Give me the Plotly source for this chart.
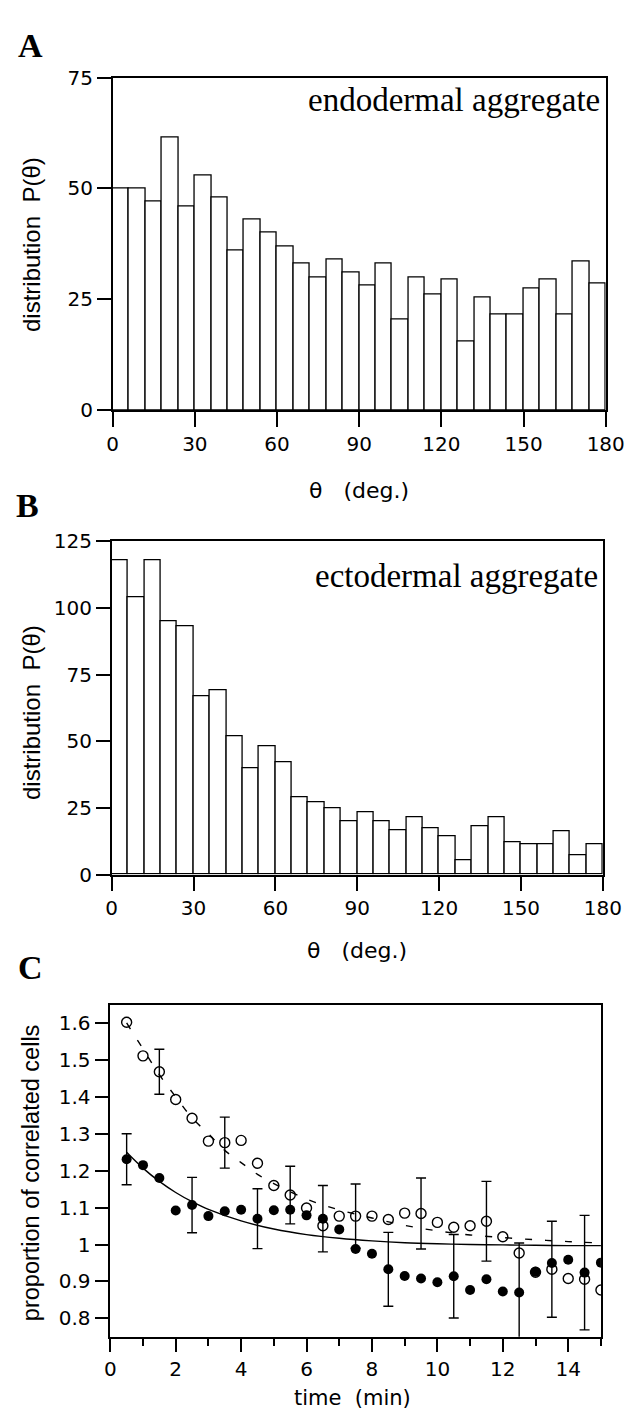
import plotly.graph_objects as go

W, H = 643, 1428

# ---------------- data ----------------
theta_centers = [3 + 6 * i for i in range(30)]
endo_counts = [50, 50, 47, 61.5, 46, 53, 48, 36, 43, 40, 37, 33, 30, 34, 31,
               28, 33, 20.5, 30, 26, 29.5, 15.5, 25.5, 21.5, 21.5, 27.5, 29.5, 21.5, 33.5, 28.5]
ecto_counts = [118, 104, 118, 95, 93, 67, 69, 52, 40, 48, 42, 29, 27, 25, 20,
               23.5, 20, 16.5, 21.5, 17.5, 14.5, 5.3, 18.3, 21.5, 12.3, 11.2, 11.2, 16.2, 7.1, 11.2]

theta_ticks = [0, 30, 60, 90, 120, 150, 180]
endo_yticks = [0, 25, 50, 75]
ecto_yticks = [0, 25, 50, 75, 100, 125]

time_min = [0.5 * (i + 1) for i in range(30)]
filled_vals = [1.231, 1.215, 1.18, 1.092, 1.107, 1.077, 1.09, 1.094, 1.07, 1.093,
               1.094, 1.079, 1.07, 1.041, 0.988, 0.975, 0.933, 0.915, 0.908, 0.898,
               0.914, 0.877, 0.906, 0.873, 0.870, 0.926, 0.950, 0.959, 0.924, 0.951]
open_vals = [1.602, 1.511, 1.468, 1.393, 1.342, 1.28, 1.276, 1.282, 1.22, 1.16,
             1.134, 1.099, 1.051, 1.077, 1.077, 1.077, 1.068, 1.085, 1.084, 1.06,
             1.047, 1.051, 1.063, 1.021, 0.977, 0.925, 0.933, 0.908, 0.906, 0.877]

filled_err_t = [0.5, 2.5, 4.5, 6.5, 8.5, 10.5, 12.5, 14.5]
filled_err = [0.069, 0.075, 0.081, 0.09, 0.10, 0.113, 0.134, 0.155]
open_err_t = [1.5, 3.5, 5.5, 7.5, 9.5, 11.5, 13.5]
open_err = [0.061, 0.069, 0.078, 0.087, 0.096, 0.108, 0.13]

solid_fit_t = [0.5, 1, 1.5, 2, 2.5, 3, 4, 5, 6, 7, 8, 9, 10, 11, 12, 13, 14, 15]
solid_fit_v = [1.25, 1.207, 1.171, 1.141, 1.116, 1.095, 1.064, 1.042, 1.027, 1.017,
               1.010, 1.005, 1.002, 1.000, 0.999, 0.998, 0.997, 0.997]
dashed_fit_t = [0.5, 1, 1.5, 2, 2.5, 3, 3.5, 4, 4.5, 5, 6, 7, 8, 9, 10, 11, 12, 13, 14, 15]
dashed_fit_v = [1.60, 1.53, 1.46, 1.40, 1.343, 1.30, 1.255, 1.222, 1.19, 1.165, 1.123,
                1.094, 1.072, 1.052, 1.037, 1.026, 1.019, 1.013, 1.008, 1.004]

c_yticks = [0.8, 0.9, 1.0, 1.1, 1.2, 1.3, 1.4, 1.5, 1.6]
c_yticklabels = ["0.8", "0.9", "1", "1.1", "1.2", "1.3", "1.4", "1.5", "1.6"]
c_xticks = [0, 2, 4, 6, 8, 10, 12, 14]

# ---------------- layout helpers ----------------
def px_x(x):
    return x / W

def px_y(y):
    return 1 - y / H

SANS = "Liberation Sans, Arial, sans-serif"
WIDE = "DejaVu Sans, Verdana, sans-serif"
SERIF = "Liberation Serif, Times New Roman, serif"
TICKFONT = dict(family=WIDE, size=20, color="black")

fig = go.Figure()

bar_style = dict(color="white", line=dict(color="black", width=1.3))
fig.add_trace(go.Bar(x=theta_centers, y=endo_counts, width=6, marker=bar_style,
                     xaxis="x", yaxis="y", showlegend=False))
fig.add_trace(go.Bar(x=theta_centers, y=ecto_counts, width=6, marker=bar_style,
                     xaxis="x2", yaxis="y2", showlegend=False))

fig.add_trace(go.Scatter(x=solid_fit_t, y=solid_fit_v, mode="lines",
                         line=dict(color="black", width=1.4, shape="spline"),
                         xaxis="x3", yaxis="y3", showlegend=False))
fig.add_trace(go.Scatter(x=dashed_fit_t, y=dashed_fit_v, mode="lines",
                         line=dict(color="black", width=1.4, shape="spline", dash="7px,13px"),
                         xaxis="x3", yaxis="y3", showlegend=False))

f_center = [filled_vals[time_min.index(t)] for t in filled_err_t]
o_center = [open_vals[time_min.index(t)] for t in open_err_t]
for xs, ys, errs in [(filled_err_t, f_center, filled_err), (open_err_t, o_center, open_err)]:
    fig.add_trace(go.Scatter(x=xs, y=ys, mode="markers",
                             marker=dict(opacity=0, size=2),
                             error_y=dict(type="data", array=errs, width=5,
                                          thickness=1.4, color="black"),
                             xaxis="x3", yaxis="y3", showlegend=False))

fig.add_trace(go.Scatter(x=time_min, y=open_vals, mode="markers",
                         marker=dict(symbol="circle-open", size=10,
                                     line=dict(color="black", width=1.4), color="black"),
                         xaxis="x3", yaxis="y3", showlegend=False))
fig.add_trace(go.Scatter(x=time_min, y=filled_vals, mode="markers",
                         marker=dict(symbol="circle", size=10, color="black"),
                         xaxis="x3", yaxis="y3", showlegend=False))

axis_common = dict(showline=True, linecolor="black", linewidth=1.5, mirror=True,
                   ticks="outside", tickcolor="black", tickwidth=1.5,
                   showgrid=False, zeroline=False, tickfont=TICKFONT)

fig.update_layout(
    width=W, height=H,
    margin=dict(l=0, r=0, t=0, b=0),
    paper_bgcolor="white", plot_bgcolor="white",
    bargap=0,
    xaxis=dict(domain=[px_x(111), px_x(624)], range=[0, 180], tickvals=theta_ticks,
               ticklen=15, anchor="y", **axis_common),
    yaxis=dict(domain=[px_y(405), px_y(66.7)], range=[0, 75], tickvals=endo_yticks,
               ticklen=14, anchor="x", **axis_common),
    xaxis2=dict(domain=[px_x(110), px_x(621)], range=[0, 180], tickvals=theta_ticks,
                ticklen=15, anchor="y2", **axis_common),
    yaxis2=dict(domain=[px_y(877.3), px_y(538.3)], range=[0, 125], tickvals=ecto_yticks,
                ticklen=14, anchor="x2", **axis_common),
    xaxis3=dict(domain=[px_x(108.5), px_x(619)], range=[0, 15], tickvals=c_xticks,
                ticklen=13, anchor="y3",
                minor=dict(dtick=1, tick0=0, ticklen=7, ticks="outside",
                           tickcolor="black", tickwidth=1.5),
                **axis_common),
    yaxis3=dict(domain=[px_y(1347.5), px_y(1009.5)], range=[0.75, 1.65],
                tickvals=c_yticks, ticktext=c_yticklabels,
                ticklen=14, anchor="x3", **axis_common),
)

NB = "\u00a0"
BLACK = "black"
annotations = []
for letter, xx, yy in [("A", 10, 34), ("B", 8, 502), ("C", 10, 972)]:
    annotations.append(dict(text="<b>" + letter + "</b>", x=px_x(xx), y=px_y(yy),
                            xanchor="left", font=dict(family=SERIF, size=34, color=BLACK)))

annotations += [
    dict(text="endodermal aggregate", x=px_x(620), y=px_y(90), xanchor="right",
         font=dict(family=SERIF, size=33, color=BLACK)),
    dict(text="ectodermal aggregate", x=px_x(618), y=px_y(574), xanchor="right",
         font=dict(family=SERIF, size=33, color=BLACK)),
    dict(text="distribution" + NB * 2 + "P(θ)", x=px_x(26), y=px_y(236), textangle=-90,
         xanchor="center", font=dict(family=SANS, size=24, color=BLACK)),
    dict(text="distribution" + NB * 2 + "P(θ)", x=px_x(26), y=px_y(712), textangle=-90,
         xanchor="center", font=dict(family=SANS, size=24, color=BLACK)),
    dict(text="proportion of correlated cells", x=px_x(26), y=px_y(1180), textangle=-90,
         xanchor="center", font=dict(family=SANS, size=23.5, color=BLACK)),
    dict(text="θ" + NB * 3 + "(deg.)", x=px_x(367), y=px_y(487), xanchor="center",
         font=dict(family=WIDE, size=22, color=BLACK)),
    dict(text="θ" + NB * 3 + "(deg.)", x=px_x(365), y=px_y(955), xanchor="center",
         font=dict(family=WIDE, size=22, color=BLACK)),
    dict(text="time" + NB * 2 + "(min)", x=px_x(361), y=px_y(1410), xanchor="center",
         font=dict(family=WIDE, size=21, color=BLACK)),
]
for a in annotations:
    a.update(xref="paper", yref="paper", yanchor="middle", showarrow=False)

fig.update_layout(annotations=annotations)

fig.write_html("out.html")
